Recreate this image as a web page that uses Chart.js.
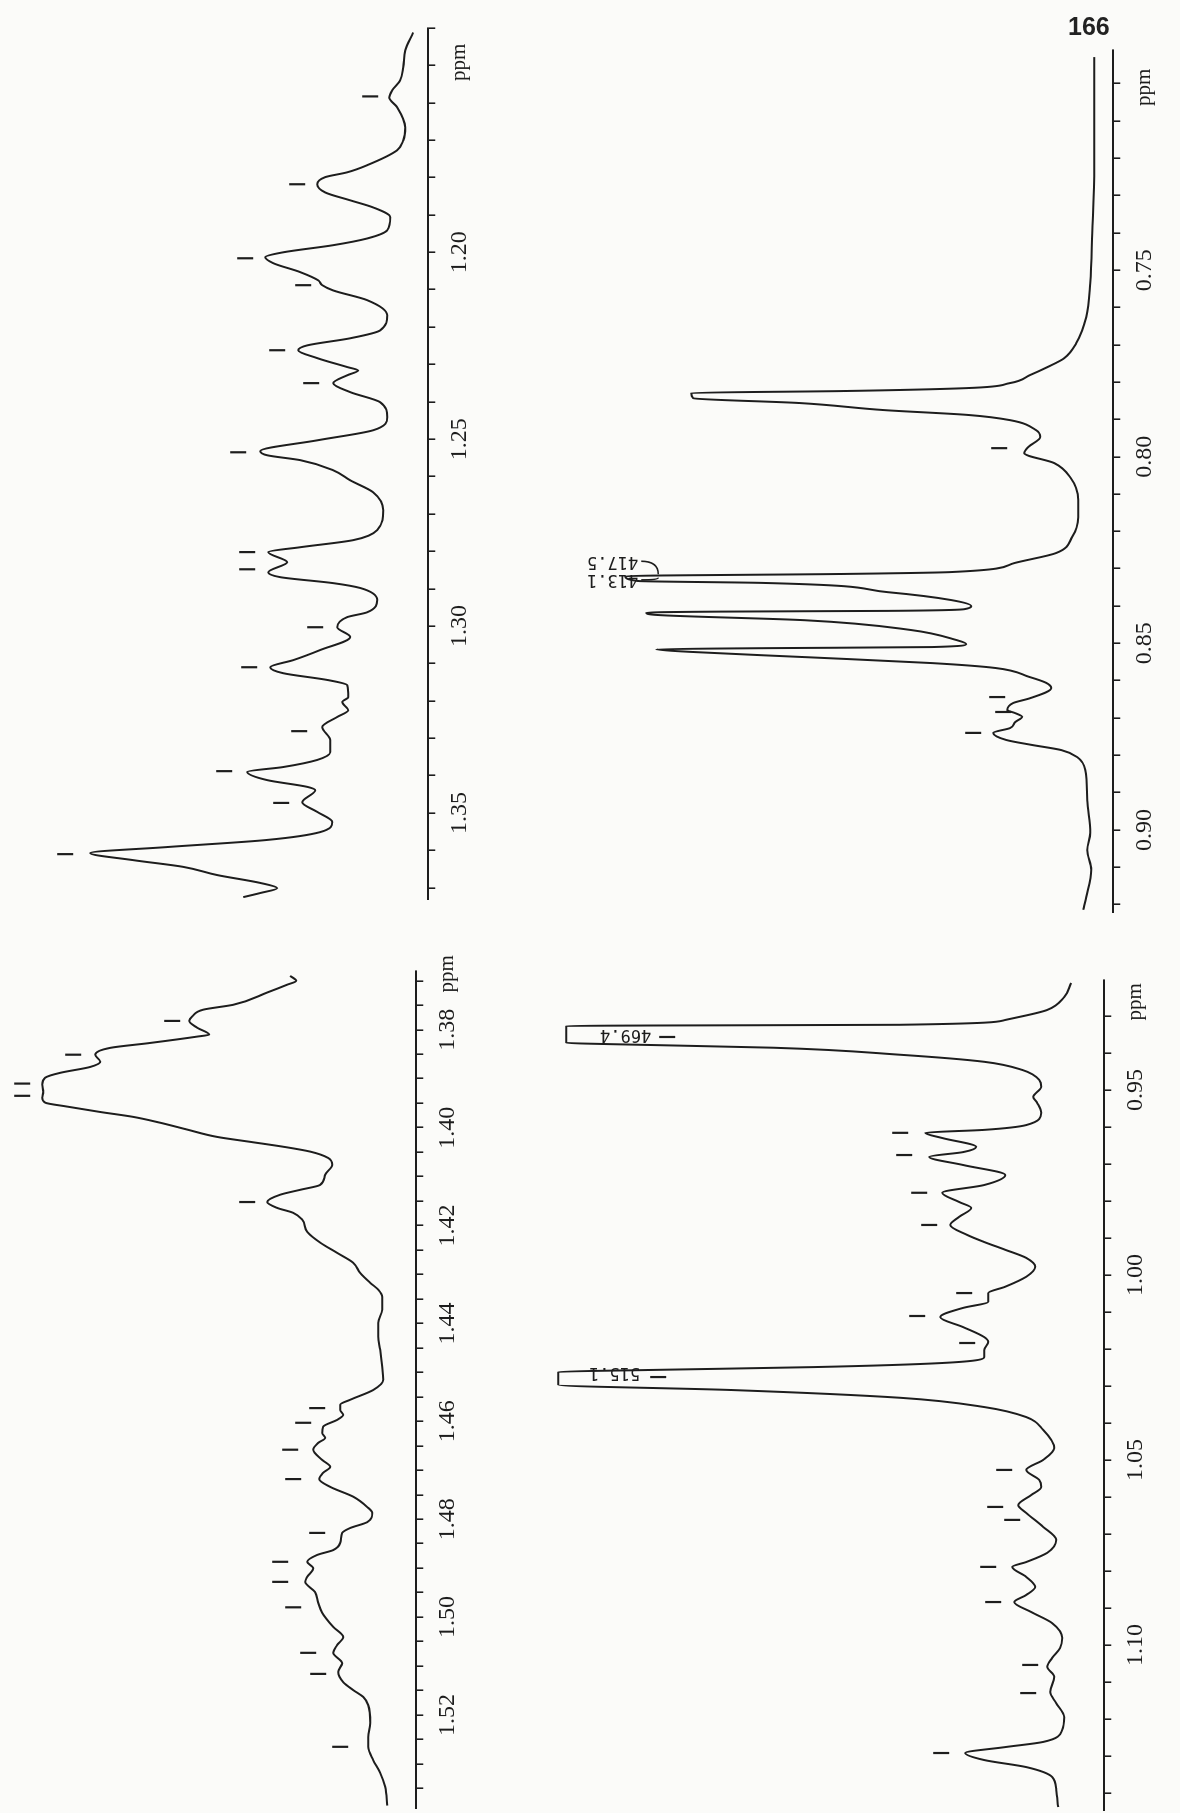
<!DOCTYPE html>
<html><head><meta charset="utf-8">
<script src="https://cdn.jsdelivr.net/npm/chart.js@4.4.0/dist/chart.umd.min.js"></script>
<style>
html,body{margin:0;padding:0;background:#fbfbf9;width:1180px;height:1813px;overflow:hidden;}
#page{position:absolute;left:0;top:0;width:1813px;height:1180px;transform-origin:0 0;transform:translate(0px,1813px) rotate(-90deg);}
.panel{position:absolute;}
#pageno{position:absolute;left:1068px;top:12px;font:bold 25px 'Liberation Sans',Arial,sans-serif;color:#222;}
</style></head><body>
<div id="page"></div>
<div id="pageno">166</div>
<script>
// ---------- DATA ----------
// Panel A : 1.14 - 1.373 ppm  (heights above the axis line)
const aPpm = [1.1412,1.1460,1.1505,1.1540,1.1567,1.1586,1.1612,1.1666,1.1701,1.1727,1.1767,1.1786,1.1799,1.1818,1.1840,1.1861,1.1880,1.1906,1.1941,1.1963,1.1981,1.2000,1.2013,1.2029,1.2053,1.2075,1.2088,1.2102,1.2128,1.2168,1.2209,1.2230,1.2249,1.2262,1.2283,1.2307,1.2316,1.2329,1.2350,1.2374,1.2401,1.2441,1.2476,1.2503,1.2532,1.2543,1.2556,1.2583,1.2610,1.2642,1.2690,1.2743,1.2770,1.2789,1.2802,1.2829,1.2856,1.2869,1.2885,1.2898,1.2930,1.2963,1.2976,1.3003,1.3029,1.3064,1.3091,1.3110,1.3126,1.3144,1.3158,1.3190,1.3203,1.3225,1.3243,1.3270,1.3305,1.3337,1.3358,1.3377,1.3390,1.3412,1.3430,1.3439,1.3471,1.3497,1.3524,1.3551,1.3572,1.3591,1.3607,1.3626,1.3644,1.3666,1.3687,1.3701,1.3714,1.3725];
const aInt = [15,23,25,28,36,39,31,23,25,31,61,81,103,111,103,78,55,38,41,61,95,145,163,155,128,110,106,95,61,41,48,78,121,130,111,81,70,81,95,78,48,41,55,111,168,161,128,95,78,55,45,51,75,128,160,141,160,148,95,68,51,61,81,91,78,108,135,158,145,101,81,80,86,80,91,106,98,98,111,145,181,161,121,113,126,111,96,108,161,261,338,295,245,211,168,151,168,185];
const aMarkPpm = [1.1583,1.1818,1.2016,1.2088,1.2262,1.2350,1.2535,1.2802,1.2848,1.3003,1.3110,1.3281,1.3388,1.3473,1.3610];
const aMarkInt = [58,131,183,125,151,117,190,181,181,113,179,129,204,147,363];
const aTickLabels = [1.20,1.25,1.30,1.35];

// Panel B : 1.368 - 1.539 ppm
const bPpm = [1.3690,1.3700,1.3708,1.3724,1.3749,1.3759,1.3773,1.3782,1.3796,1.3810,1.3814,1.3827,1.3837,1.3851,1.3865,1.3876,1.3888,1.3898,1.3912,1.3927,1.3939,1.3949,1.3957,1.3968,1.3978,1.3990,1.4004,1.4019,1.4029,1.4039,1.4049,1.4062,1.4076,1.4096,1.4117,1.4127,1.4137,1.4152,1.4164,1.4174,1.4188,1.4213,1.4235,1.4256,1.4276,1.4297,1.4317,1.4331,1.4346,1.4372,1.4399,1.4427,1.4454,1.4489,1.4515,1.4536,1.4556,1.4566,1.4577,1.4587,1.4597,1.4611,1.4624,1.4634,1.4644,1.4658,1.4679,1.4693,1.4705,1.4718,1.4734,1.4754,1.4775,1.4787,1.4806,1.4818,1.4828,1.4848,1.4863,1.4873,1.4887,1.4900,1.4918,1.4928,1.4949,1.4971,1.4991,1.5020,1.5041,1.5057,1.5073,1.5094,1.5112,1.5133,1.5149,1.5163,1.5180,1.5216,1.5245,1.5265,1.5292,1.5318,1.5347,1.5385];
const bInt = [126,120,129,149,183,213,224,227,219,207,219,266,306,321,316,326,356,371,374,373,374,371,349,316,283,256,229,199,166,133,106,88,84,91,96,116,136,149,139,123,114,109,96,79,63,56,46,38,34,34,38,38,36,34,33,43,66,76,76,73,79,93,94,91,98,103,94,86,93,97,86,63,49,44,49,66,74,76,83,99,109,103,109,111,101,98,94,83,73,79,83,74,78,73,63,53,48,46,48,48,43,36,31,29];
const bMarkPpm = [1.3782,1.3851,1.3910,1.3935,1.4152,1.4573,1.4603,1.4658,1.4718,1.4828,1.4887,1.4928,1.4980,1.5073,1.5116,1.5265];
const bMarkInt = [244,343,394,394,169,99,113,126,123,99,136,136,123,108,98,76];
const bTickLabels = [1.38,1.40,1.42,1.44,1.46,1.48,1.50,1.52];

// Panel C : 0.691 - 0.922 ppm
const cPpm = [0.6929,0.7045,0.7224,0.7401,0.7535,0.7626,0.7696,0.7736,0.7760,0.7781,0.7803,0.7816,0.7824,0.7829,0.7843,0.7856,0.7875,0.7888,0.7902,0.7929,0.7947,0.7974,0.7990,0.8017,0.8055,0.8116,0.8162,0.8215,0.8258,0.8285,0.8309,0.8314,0.8320,0.8333,0.8338,0.8363,0.8384,0.8400,0.8408,0.8413,0.8415,0.8418,0.8424,0.8438,0.8464,0.8491,0.8502,0.8510,0.8513,0.8516,0.8523,0.8537,0.8553,0.8566,0.8590,0.8606,0.8620,0.8647,0.8660,0.8679,0.8687,0.8697,0.8711,0.8727,0.8740,0.8759,0.8772,0.8786,0.8805,0.8839,0.8920,0.9008,0.9054,0.9107,0.9180,0.9214];
const cInt = [19,19,19,21,23,27,37,49,66,83,104,146,272,422,420,314,229,145,103,77,73,85,89,59,43,35,35,41,57,99,162,267,488,475,352,225,162,142,148,224,393,467,456,309,203,157,147,181,350,457,422,308,181,118,84,67,62,83,100,106,98,91,98,103,120,107,82,52,36,28,26,23,26,22,27,30];
const cMarkPpm = [0.7977,0.8644,0.8684,0.8740];
const cMarkInt = [114,116,110,140];
const cTickLabels = [0.75,0.80,0.85,0.90];
const cPeakTexts = ['417.5','413.1'];
const cPeakTextPpm = [0.8280,0.8330];

// Panel D : 0.920 - 1.145 ppm
const dPpm = [0.9211,0.9249,0.9284,0.9311,0.9324,0.9326,0.9327,0.9373,0.9376,0.9386,0.9405,0.9424,0.9446,0.9473,0.9492,0.9519,0.9535,0.9562,0.9595,0.9608,0.9616,0.9630,0.9654,0.9668,0.9681,0.9703,0.9730,0.9757,0.9778,0.9803,0.9819,0.9843,0.9865,0.9892,0.9911,0.9932,0.9954,0.9978,1.0005,1.0032,1.0049,1.0073,1.0089,1.0114,1.0141,1.0168,1.0181,1.0203,1.0222,1.0238,1.0249,1.0257,1.0262,1.0297,1.0311,1.0332,1.0357,1.0384,1.0419,1.0468,1.0500,1.0527,1.0554,1.0573,1.0595,1.0622,1.0643,1.0681,1.0716,1.0751,1.0776,1.0789,1.0816,1.0843,1.0865,1.0884,1.0911,1.0941,1.0981,1.1008,1.1035,1.1059,1.1086,1.1127,1.1157,1.1195,1.1230,1.1262,1.1276,1.1292,1.1311,1.1330,1.1357,1.1392,1.1438];
const dInt = [33,40,57,99,204,457,538,538,500,331,204,120,82,65,63,71,67,63,78,120,179,162,128,141,175,141,99,120,162,145,133,145,154,137,120,99,78,69,78,99,116,116,141,164,141,120,116,120,120,162,289,457,546,546,373,204,120,78,61,50,61,78,65,63,73,86,78,61,48,57,78,92,78,69,78,90,73,52,42,44,52,57,50,54,48,40,42,61,99,139,120,78,52,48,46];
const dMarkPpm = [0.9357,0.9616,0.9676,0.9778,0.9865,1.0049,1.0111,1.0184,1.0276,1.0527,1.0627,1.0662,1.0789,1.0884,1.1054,1.1130,1.1292];
const dMarkInt = [437,204,200,185,175,140,187,137,446,100,109,92,116,111,74,76,163];
const dTickLabels = [0.95,1.00,1.05,1.10];
const dPeakTexts = ['469.4','515.1'];
const dPeakTextPpm = [0.9351,1.0264];

// ---------- STYLE / LAYOUT ----------
const INK = '#1d1d1d';
const SERIF = "'Liberation Serif','Times New Roman',serif";
const MONO = "'DejaVu Sans Mono','Liberation Mono',monospace";

const annotPlugin = {
  id: 'annot',
  afterDatasetsDraw(chart, args, opts) {
    const ctx = chart.ctx, xs = chart.scales.x, ys = chart.scales.y;
    (opts.texts || []).forEach(t => {
      ctx.save();
      ctx.translate(xs.getPixelForValue(t.ppm), ys.getPixelForValue(t.inten));
      if (t.rot) ctx.rotate(-Math.PI / 2);
      ctx.font = t.font; ctx.fillStyle = INK;
      ctx.textAlign = t.align; ctx.textBaseline = 'middle';
      ctx.fillText(t.text, 0, 0);
      ctx.restore();
    });
    (opts.leaders || []).forEach(l => {
      ctx.save();
      ctx.strokeStyle = INK; ctx.lineWidth = 1.6;
      ctx.beginPath();
      ctx.moveTo(xs.getPixelForValue(l.p1), ys.getPixelForValue(l.i1));
      ctx.quadraticCurveTo(xs.getPixelForValue(l.p1), ys.getPixelForValue(l.i2),
                           xs.getPixelForValue(l.p2), ys.getPixelForValue(l.i2));
      ctx.stroke();
      ctx.restore();
    });
  }
};

function pts(xs, ys) { return xs.map((v, i) => ({x: v, y: ys[i]})); }

function buildPanel(P) {
  const wrap = document.createElement('div');
  wrap.className = 'panel';
  const cv = document.createElement('canvas');
  wrap.appendChild(cv);
  document.getElementById('page').appendChild(wrap);
  const W = P.xRight - P.xLeft, Hc = P.axisY - P.yTop;
  let cw = W + 50, ch = Hc + 70;
  const texts = [{ppm: P.ppmLabelAt, inten: -31, text: 'ppm', font: '21px ' + SERIF, align: 'center', rot: false}]
    .concat((P.peakTexts || []).map((s, i) => ({ppm: P.peakTextPpm[i], inten: P.peakTextInt[i], text: s, font: '17px ' + MONO, align: 'left', rot: true})));
  const cfg = () => ({
    type: 'scatter',
    data: {datasets: [
      {data: pts(P.ppm, P.inten), showLine: true, borderColor: INK, borderWidth: 2, pointRadius: 0,
       cubicInterpolationMode: 'monotone', clip: false},
      {data: pts(P.markPpm, P.markInt), showLine: false, pointStyle: 'line', pointRadius: 8,
       pointRotation: 90, pointBorderColor: INK, pointBorderWidth: 2.2, pointBackgroundColor: INK, clip: false}
    ]},
    options: {
      responsive: false, animation: false, devicePixelRatio: 1, events: [],
      layout: {padding: {left: 25, right: 25, top: 0, bottom: 0}},
      plugins: {legend: {display: false}, tooltip: {enabled: false}, annot: {texts, leaders: P.leaders || []}},
      scales: {
        x: {type: 'linear', reverse: true, min: P.min, max: P.max, position: 'bottom',
            ticks: {stepSize: P.step, includeBounds: false, autoSkip: false, maxRotation: 0, minRotation: 0,
                    padding: 10, color: INK, font: {family: SERIF, size: 24},
                    callback: v => P.labels.some(l => Math.abs(l - v) < 1e-6) ? v.toFixed(2) : ''},
            grid: {drawOnChartArea: false, drawTicks: true, tickLength: 7, color: INK, lineWidth: 1.6},
            border: {display: true, color: INK, width: 2}},
        y: {display: false, min: 0, max: Hc}
      }
    },
    plugins: [annotPlugin]
  });
  const make = () => {
    cv.width = cw; cv.height = ch; cv.style.width = cw + 'px'; cv.style.height = ch + 'px';
    return new Chart(cv, cfg());
  };
  let chart = make();
  for (let k = 0; k < 3; k++) {
    const ca = chart.chartArea;
    const dw = W - (ca.right - ca.left), dh = Hc - (ca.bottom - ca.top);
    if (Math.abs(dw) < 0.5 && Math.abs(dh) < 0.5) break;
    cw = Math.round(cw + dw); ch = Math.round(ch + dh);
    chart.destroy(); chart = make();
  }
  const ca = chart.chartArea;
  wrap.style.left = (P.xLeft - ca.left) + 'px';
  wrap.style.top = (P.axisY - ca.bottom) + 'px';
}

buildPanel({ppm: aPpm, inten: aInt, markPpm: aMarkPpm, markInt: aMarkInt, labels: aTickLabels,
  min: 1.14, max: 1.373, step: 0.01, xLeft: 914, xRight: 1785, axisY: 428, yTop: 0, ppmLabelAt: 1.1492});
buildPanel({ppm: bPpm, inten: bInt, markPpm: bMarkPpm, markInt: bMarkInt, labels: bTickLabels,
  min: 1.368, max: 1.539, step: 0.005, xLeft: 5, xRight: 842, axisY: 416, yTop: 0, ppmLabelAt: 1.3686});
buildPanel({ppm: cPpm, inten: cInt, markPpm: cMarkPpm, markInt: cMarkInt, labels: cTickLabels,
  min: 0.691, max: 0.922, step: 0.01, xLeft: 901, xRight: 1763, axisY: 1113, yTop: 490, ppmLabelAt: 0.7010,
  peakTexts: cPeakTexts, peakTextPpm: cPeakTextPpm, peakTextInt: [475, 475],
  leaders: [{p1: 0.8280, i1: 472, p2: 0.8315, i2: 455}, {p1: 0.8330, i1: 472, p2: 0.8324, i2: 455}]});
buildPanel({ppm: dPpm, inten: dInt, markPpm: dMarkPpm, markInt: dMarkInt, labels: dTickLabels,
  min: 0.9203, max: 1.1446, step: 0.01, xLeft: 3, xRight: 833, axisY: 1104, yTop: 480, ppmLabelAt: 0.9262,
  peakTexts: dPeakTexts, peakTextPpm: dPeakTextPpm, peakTextInt: [453, 464]});
</script>
</body></html>
